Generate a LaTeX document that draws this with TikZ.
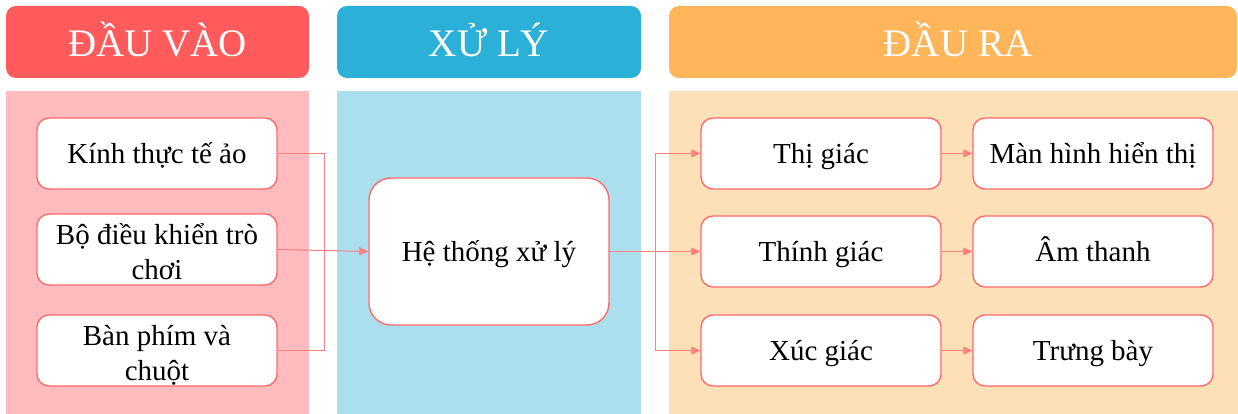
\documentclass[tikz,border=0pt]{standalone}
\usepackage{fontspec}
\setmainfont{Liberation Serif}
\usetikzlibrary{arrows.meta}
\definecolor{headred}{HTML}{FF5B5C}
\definecolor{headblue}{HTML}{2BB1D8}
\definecolor{headorange}{HTML}{FFB65A}
\definecolor{panelpink}{HTML}{FFBBBD}
\definecolor{panelblue}{HTML}{ABDFED}
\definecolor{panelpeach}{HTML}{FDE0B8}
\definecolor{boxline}{HTML}{FF6B6B}
\definecolor{connline}{HTML}{FF7F7F}
\tikzset{
  header/.style={text=white, font=\fontsize{39}{45}\selectfont,
    text height=33pt, text depth=4pt, inner sep=0pt},
  itembox/.style={draw=boxline, line width=1.4pt, fill=white, rounded corners=12pt,
    minimum width=240pt, minimum height=71pt, align=center, inner sep=2pt,
    font=\fontsize{29}{35}\selectfont, text height=27pt, text depth=7pt},
  twoline/.style={itembox, text height=62pt, text depth=3pt},
  procbox/.style={itembox, rounded corners=22pt, minimum height=147pt},
  conn/.style={draw=connline, line width=1pt},
  arr/.style={conn, -{Triangle[length=9pt,width=8pt]}}
}
\begin{document}
\begin{tikzpicture}[x=1pt,y=-1pt]
\useasboundingbox (0,0) rectangle (1238,414);
\clip (0,0) rectangle (1238,414);
% column backgrounds
\fill[panelpink]  (6,91) rectangle (309,420);
\fill[panelblue]  (337,91) rectangle (641,420);
\fill[panelpeach] (669,91) rectangle (1250,420);
% column headers
\fill[headred, rounded corners=10pt]    (6,6) rectangle (309,78);
\fill[headblue, rounded corners=10pt]   (337,6) rectangle (641,78);
\fill[headorange, rounded corners=10pt] (669,6) rectangle (1237,78);
\node[header] (hin)  at (157.5,42) {ĐẦU VÀO};
\node[header] (hpro) at (489,42) {XỬ LÝ};
\node[header] (hout) at (958,42) {ĐẦU RA};
% inputs
\node[itembox] (k) at (157,153.5) {Kính thực tế ảo};
\node[twoline] (d) at (157,249.5) {Bộ điều khiển trò\\chơi};
\node[twoline] (b) at (157,350.5) {Bàn phím và\\chuột};
% processing
\node[procbox] (h) at (489,251.5) {Hệ thống xử lý};
% outputs
\node[itembox] (t)  at (821,153.5) {Thị giác};
\node[itembox] (th) at (821,251.5) {Thính giác};
\node[itembox] (x)  at (821,350.5) {Xúc giác};
\node[itembox] (m)  at (1093,153.5) {Màn hình hiển thị};
\node[itembox] (a)  at (1093,251.5) {Âm thanh};
\node[itembox] (tb) at (1093,350.5) {Trưng bày};
% input connectors
\coordinate (jl) at (324,251);
\draw[conn] (k.east) -| (jl);
\draw[conn] (b.east) -| (jl);
\draw[arr] (d.east) -- (h.west);
% output connectors
\coordinate (jr) at (655,251.5);
\draw[conn] (h.east) -- (jr);
\draw[arr] (jr) |- (t.west);
\draw[arr] (jr) -- (th.west);
\draw[arr] (jr) |- (x.west);
\draw[arr] (t.east) -- (m.west);
\draw[arr] (th.east) -- (a.west);
\draw[arr] (x.east) -- (tb.west);
\end{tikzpicture}
\end{document}
